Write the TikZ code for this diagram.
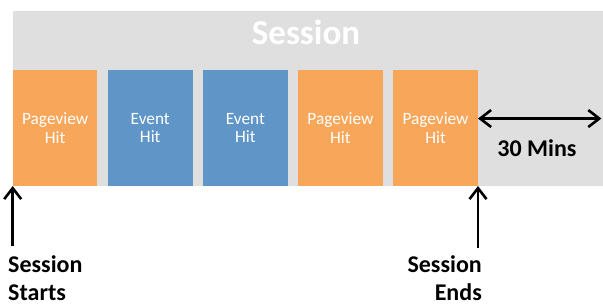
\documentclass[tikz,border=0pt]{standalone}
\usepackage{fontspec}
\setmainfont{Carlito}
\usetikzlibrary{arrows.meta,positioning}
\definecolor{HitPage}{RGB}{248,166,90}
\definecolor{HitEvent}{RGB}{96,149,200}
\definecolor{SessionGray}{RGB}{223,223,223}

\begin{document}
\begin{tikzpicture}[
    x=1pt, y=1pt,
    hit/.style={minimum width=84.5pt, minimum height=115.5pt, inner sep=0pt,
                align=center, text=white, font=\fontsize{17.3}{18.5}\selectfont},
    lbl/.style={font=\bfseries\fontsize{24}{28}\selectfont, inner sep=0pt},
    arr/.style={-{Straight Barb[length=11pt, width=17pt]}, line width=2.6pt},
    dbl/.style={{Straight Barb[length=11pt, width=17pt]}-{Straight Barb[length=11pt, width=17pt]}, line width=2.6pt},
    node distance=10.2pt
]
    \useasboundingbox (0,0) rectangle (603,-305);
    \node[fill=SessionGray, minimum width=590.3pt, minimum height=175.5pt, inner sep=0pt,
          anchor=north west] (session) at (12.7,-10.5) {};
    \node[font=\bfseries\fontsize{35}{40}\selectfont, text=white, anchor=base] (title) at (306,-45) {Session};
    \node[hit, fill=HitPage, anchor=south west] (hit1) at (12.7,-186) {Pageview\\Hit};
    \node[hit, fill=HitEvent, right=of hit1] (hit2) {Event\\Hit};
    \node[hit, fill=HitEvent, right=of hit2] (hit3) {Event\\Hit};
    \node[hit, fill=HitPage, right=of hit3]  (hit4) {Pageview\\Hit};
    \node[hit, fill=HitPage, right=of hit4]  (hit5) {Pageview\\Hit};
    % idle gap after the last hit
    \coordinate (gapL) at ([yshift=9.5pt]hit5.east);
    \coordinate (gapR) at ([xshift=-2pt]session.east |- gapL);
    \draw[dbl] (gapL) -- (gapR);
    \node[lbl, anchor=base] (mins) at (537,-156.7) {30 Mins};
    % start / end markers
    \node[lbl, align=left, anchor=north west] (starts) at (8,-255) {Session\\Starts};
    \node[lbl, align=right, anchor=north east] (ends) at (482,-255) {Session\\Ends};
    \draw[arr, shorten <=9pt] (hit1.south west |- starts.north) -- (hit1.south west);
    \draw[arr, shorten <=7pt] (hit5.south east |- ends.north) -- (hit5.south east);
\end{tikzpicture}
\end{document}
